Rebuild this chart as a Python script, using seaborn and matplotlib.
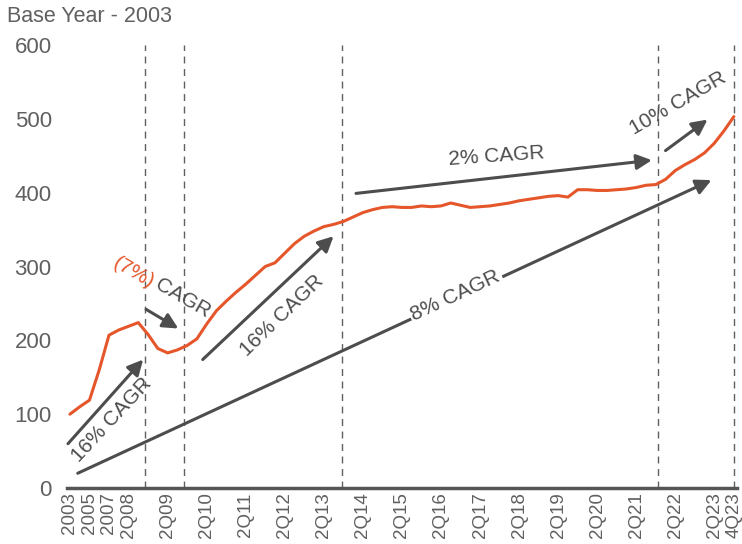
import numpy as np
import pandas as pd
import seaborn as sns
import matplotlib.pyplot as plt

# periods: annual points 2003-2007, then quarterly 1Q08 .. 4Q23
years_annual = ['2003', '2004', '2005', '2006', '2007']
periods = years_annual + ['%iQ%02i' % (q, y) for y in range(8, 24) for q in range(1, 5)]

index_annual = [100, 110, 119, 160, 207]
index_quarterly = [
    214, 219, 224, 208,   # 2008
    189, 183, 187, 193,   # 2009
    202, 222, 240, 253,   # 2010
    265, 276, 288, 300,   # 2011
    305, 318, 331, 341,   # 2012
    348, 354, 357, 361,   # 2013
    367, 373, 377, 380,   # 2014
    381, 380, 380, 382,   # 2015
    381, 382, 386, 383,   # 2016
    380, 381, 382, 384,   # 2017
    386, 389, 391, 393,   # 2018
    395, 396, 394, 404,   # 2019
    404, 403, 403, 404,   # 2020
    405, 407, 410, 411,   # 2021
    418, 430, 438, 445,   # 2022
    454, 467, 484, 503,   # 2023
]
index_values = index_annual + index_quarterly

shown_ticks = ['2003', '2005', '2007', '2Q08', '2Q09', '2Q10', '2Q11', '2Q12', '2Q13',
               '2Q14', '2Q15', '2Q16', '2Q17', '2Q18', '2Q19', '2Q20', '2Q21',
               '2Q22', '2Q23', '4Q23']

# dashed separators between growth phases (position on the period axis)
period_breaks = [7.7, 11.7, 27.9, 60.2, 68]

# growth arrows: start, end (period position, index value)
arrow_start = [(-0.2, 60), (7.8, 242), (13.6, 174), (0.8, 20), (29.3, 399), (61.0, 457)]
arrow_end = [(7.5, 174), (11.1, 216), (27.0, 341), (65.7, 417), (59.6, 444), (65.3, 499)]

# labels: text, position, rotation
cagr_text = ['16% CAGR', '16% CAGR', '8% CAGR', '2% CAGR', '10% CAGR']
cagr_pos = [(4.3, 92), (21.7, 234), (39.5, 261), (43.7, 449), (62.3, 521)]
cagr_rot = [47, 44, 25, 4, 30]

orange = '#E5562B'
dark = '#4D4D4D'
grey = '#606060'

df = pd.DataFrame({'period': periods, 'pos': np.arange(len(periods)), 'value': index_values})

sns.set_theme(style='white')
plt.rcParams['font.family'] = ['Liberation Sans', 'DejaVu Sans']

fig = plt.figure(figsize=(7.42, 5.44), dpi=100)
ax = fig.add_axes([0.0903, 0.1029, 0.9027, 0.8144])

sns.lineplot(data=df, x='pos', y='value', ax=ax, color=orange, linewidth=2.2)

for b in period_breaks:
    ax.axvline(b, color=grey, lw=1, linestyle=(0, (5, 4)), zorder=1)

for s, e in zip(arrow_start, arrow_end):
    ax.annotate('', xy=e, xytext=s,
                arrowprops=dict(arrowstyle='-|>', color=dark, lw=2.2,
                                mutation_scale=23, shrinkA=0, shrinkB=0))

for t, p, r in zip(cagr_text, cagr_pos, cagr_rot):
    kw = {}
    if t == '8% CAGR':
        kw['bbox'] = dict(fc='white', ec='none', pad=1.5)
    ax.text(p[0], p[1], t, rotation=r, rotation_mode='anchor', ha='center', va='center',
            fontsize=15, color=dark, zorder=5, **kw)

ax.text(6.5, 291, '(7%)', rotation=-30, rotation_mode='anchor', ha='center', va='center',
        fontsize=15, color=orange, zorder=5)
ax.text(11.6, 257, 'CAGR', rotation=-30, rotation_mode='anchor', ha='center', va='center',
        fontsize=15, color=dark, zorder=5)

ax.set_xlim(-0.3, 68.3)
ax.set_ylim(0, 600)
ax.set_yticks(range(0, 601, 100))
tick_pos = [periods.index(t) for t in shown_ticks]
ax.set_xticks(tick_pos)
ax.set_xticklabels(shown_ticks, rotation=90)
ax.tick_params(axis='x', length=0, pad=3, labelsize=13.5, labelcolor=grey)
ax.tick_params(axis='y', length=0, pad=11, labelsize=16, labelcolor=grey)
ax.set_xlabel('')
ax.set_ylabel('')

for side in ['top', 'right', 'left']:
    ax.spines[side].set_visible(False)
ax.spines['bottom'].set_color('#555555')
ax.spines['bottom'].set_linewidth(2.5)
ax.grid(False)

fig.text(0.009, 1 - 17 / 544, 'Base Year - 2003', fontsize=15.5, color=grey,
         ha='left', va='center')

fig.savefig('out.png', dpi=100)
